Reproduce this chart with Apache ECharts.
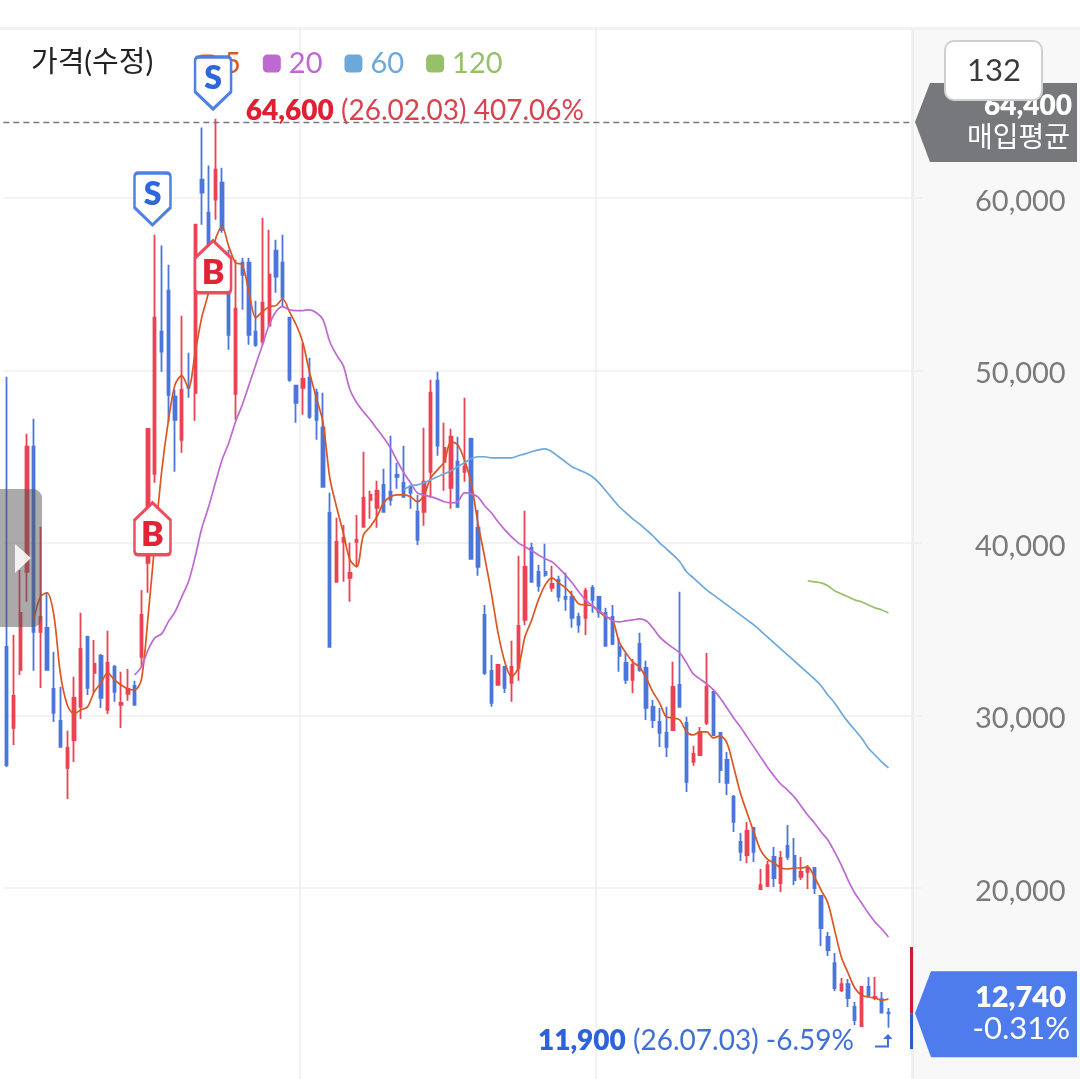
<!DOCTYPE html>
<html>
<head>
<meta charset="utf-8">
<style>html,body{margin:0;padding:0;background:#fff}#c{width:1080px;height:1079px}</style>
<script src="https://cdn.jsdelivr.net/npm/echarts@6/dist/echarts.min.js"></script>
</head>
<body>
<div id="c"></div>
<script>
const opens = [
33980,29280,32640,38330,45580,34850,35080,31540,29690,26960,
28580,30500,34560,32470,33460,30320,32820,30610,31250,31720,
33400,38850,44010,52250,54630,48480,45980,49060,48710,61060,
59150,59900,60890,54510,48650,56250,56250,52250,51670,52600,
56950,56250,53060,49120,49000,49580,48710,46680,41750,37750,
40070,37980,40070,40940,42500,42040,43370,42970,43950,43490,
43260,41810,41810,44130,49410,44710,43200,44710,44130,46040,
40880,35830,32590,31770,32820,31890,32760,35540,39720,38330,
38330,37400,37860,36880,36880,35720,35660,37400,36880,35950,
35720,33980,33050,32060,34150,32760,30500,29630,28990,29160,
31770,29570,27310,27710,29570,31370,28990,27420,25280,22670,
21910,23480,19940,20120,21800,20290,22440,21860,20640,20930,
21160,19540,17160,15650,14080,14430,13100,12000,14260,13620,
13560,12780];
const closes = [
27130,31140,35950,45580,34850,35720,32640,30150,28180,28120,
31020,33860,31600,32990,31020,33050,31370,30730,31540,30610,
35830,46620,53060,51090,48590,47140,48880,49000,58450,60310,
57290,61640,58160,52070,53580,55550,52070,51490,53930,55550,
55440,54220,49460,48130,49520,47320,47140,43260,33980,40070,
40300,38270,40180,42620,42790,43030,41810,42500,43840,42680,
42910,40180,43550,48710,45640,45520,46160,42100,44420,39080,
38620,32470,30730,32930,31600,32820,35200,38620,37750,37520,
38150,37630,36880,36760,35660,35250,37230,36700,36010,34040,
34150,33460,32060,32930,32640,30440,29740,28990,28180,31660,
30500,26150,27770,29050,31660,28870,26840,26090,23830,22090,
23310,22090,20170,21330,20580,21740,21800,20460,20930,21160,
20000,17680,16400,14200,14430,13620,12340,14260,13790,13680,
12780,12740];
const lows = [
27020,28290,32350,36590,32590,31600,32640,29630,28180,25160,
27310,29800,31190,31310,30440,30090,30790,29280,30850,30610,
32820,37110,43490,49930,47030,44130,45230,48420,47090,58450,
57000,58740,57990,51200,47140,53520,51490,51380,51490,52540,
54510,53700,49350,46970,47430,47200,45980,43260,33980,37750,
37750,36590,38620,40940,41400,40880,41750,42160,43140,42620,
41980,39890,41000,42620,45060,43030,41980,42100,43550,39080,
38100,32350,30500,31770,31310,30790,32010,35250,37690,37170,
38040,37170,36590,36070,35080,34790,34670,35950,35660,34040,
34090,32530,31830,31310,32530,29740,29280,28180,27600,29160,
30500,25570,27080,27660,29450,28820,26090,25390,23250,21570,
21450,21510,19940,20060,20060,19770,21620,20170,20460,19940,
19650,16640,16060,14030,13970,13100,12050,12000,13680,13500,
12750,11900];
const highs = [
49640,34670,38440,46330,47200,40940,37110,33690,31660,29110,
32240,35950,34620,34380,33570,34910,32930,32530,32700,32010,
37280,46620,57870,57240,56130,48880,53180,51030,58450,64080,
61880,64600,61760,57000,56420,56540,56540,54050,58860,58160,
57580,57870,53120,49120,51610,50740,48940,48710,42910,41460,
41050,40010,41630,45290,43030,43610,44300,46220,44650,45640,
43370,42790,46680,49460,49930,46970,46620,46160,48420,46100,
41920,36410,33510,32930,32880,34330,39260,41870,40010,38730,
39950,38680,38100,38270,37230,35950,37400,37570,36940,36240,
36410,34500,33630,33280,34790,33170,30900,30440,30500,33110,
37170,29920,28240,29340,33630,31430,29050,27890,25390,23190,
23830,23540,21100,21570,22380,22150,23650,22900,21800,21330,
21220,19590,17450,16230,14780,14720,13390,14260,14840,14840,
13970,13040];

const ma5Start = 4;
const ma5 = [
35540,36880,37110,35830,32350,30610,30090,30320,30500,31370,31890,32470,32060,31770,31540,31480,
32060,35720,40010,44070,47030,49170,49700,49000,51030,53120,54570,57580,58340,57180,56250,56130,
54510,53060,53410,53700,53760,54160,53410,52650,51610,49870,48420,46970,43780,42100,40590,39020,
38620,40470,40940,41520,42330,42680,42790,42790,42680,42390,42790,43780,44240,44710,45870,45690,
44820,43490,41170,39200,37110,34790,33110,32240,32760,34560,35540,36700,37570,37980,37690,37400,
36990,36470,36410,36360,36010,35720,35540,34270,33630,33110,32820,32180,31370,30730,29920,29860,
29740,29050,28870,29050,29050,28700,28820,28410,27020,25510,24350,23250,22200,21680,21450,21160,
21100,21160,21160,21220,20640,19880,19130,17560,16000,15070,14200,13790,13680,13620,13500,13560];

const ma20Start = 19;
const ma20 = [
32350,32820,33800,34500,34730,35430,36010,36880,37750,39200,40880,42100,43490,44820,45810,47030,
48010,49170,50330,51490,52650,53410,53700,53520,53470,53470,53520,53350,52940,51670,50910,50280,
48880,48130,47610,47140,46620,46100,45520,44770,44070,43490,42910,42790,42680,42560,42390,42330,
42390,42910,42850,42680,42160,41750,41230,40760,40360,40010,39780,39550,39310,39080,38910,38560,
38150,37690,37170,36700,36360,36070,35780,35490,35430,35490,35540,35600,35490,35080,34560,34210,
33920,33630,33050,32410,32120,31830,31480,31020,30440,29860,29340,28760,28180,27600,27020,26500,
26030,25680,25280,24760,24230,23770,23250,22780,22090,21330,20460,19710,19130,18550,18030,17620,17160];

const ma60Start = 59;
const ma60 = [
43080,43320,43370,43490,43660,43840,44010,44190,44420,44650,44880,45000,45000,44940,44940,44940,
44940,45060,45170,45290,45400,45460,45290,45000,44710,44420,44240,44070,43840,43490,43030,42560,
42100,41750,41400,41110,40760,40420,40010,39660,39310,38910,38330,37980,37630,37280,36990,36700,
36410,36120,35830,35540,35250,34910,34560,34210,33860,33510,33170,32820,32470,32120,31720,31190,
30730,30150,29630,29160,28700,28120,27710,27310,26960];

const ma120Start = 119;
const ma120 = [37810,37750,37690,37520,37230,37050,36880,36700,36590,36410,36240,36120,35950];

const yTicks = [20000,30000,40000,50000,60000];
const yMin = 8927, yMax = 69855;
const totalSlots = 135;
const timeSplits = [44,88];
const legendNames = ['5','20','60','120'];
const avgPrice = 64400;
const lastPrice = 12740;
const rangeHigh = 16580, rangeLow = 10660;
const highPoint = {i:31, v:64600, text:'64,600', rest:' (26.02.03) 407.06%'};
const lowPoint = {i:131, v:11900, text:'11,900', rest:' (26.07.03) -6.59%'};
const trades = [
  {t:'S', i:22, v:58380},
  {t:'B', i:22, v:42390},
  {t:'S', i:31, v:65100},
  {t:'B', i:31, v:57580}
];

const FONT = "Lato, 'Noto Sans CJK KR', sans-serif";
const RED='#EB4254', BLUE='#4B76DC';
const pad = (n,a)=>Array(n).fill(null).concat(a);
const categories = Array.from({length:totalSlots},(_,k)=>String(k));
const candles = opens.map((o,k)=>[o,closes[k],lows[k],highs[k]]);
const lineSeries=(name,data,color)=>({
  name,type:'line',data,showSymbol:false,symbol:'none',smooth:0.3,
  lineStyle:{color,width:1.7},itemStyle:{color},z:3,silent:true
});
const S_PATH='path://M4 0 H34 Q38 0 38 4 V36 L19 54 L0 36 V4 Q0 0 4 0 Z';
const B_PATH='path://M19 0 L38 18 V50 Q38 54 34 54 H4 Q0 54 0 50 V18 Z';
const tradePoints = trades.map(m=>{
  const sell=m.t==='S';
  const col=sell?'#4A7BE3':'#E9485A';
  return {
    coord:[m.i,m.v],symbol:sell?S_PATH:B_PATH,symbolSize:[36,52],
    symbolOffset:[-2.3,sell?-27:27],
    itemStyle:{color:'#fff',borderColor:col,borderWidth:3,opacity:0.96},
    label:{show:true,position:'inside',formatter:m.t,fontFamily:FONT,fontWeight:800,
      fontSize:sell?32:34,color:sell?'#2460DC':'#E01A30',offset:[0,sell?-4:6]}
  };
});
const priceLabel=(p,pos,dist,offset,col,dimCol)=>({
  coord:[p.i,p.v],symbol:'circle',symbolSize:1,itemStyle:{color:'transparent',opacity:1},
  label:{show:true,position:pos,distance:dist,offset,
    formatter:'{a|'+p.text+'}{b|'+p.rest+'}',
    rich:{a:{fontFamily:FONT,fontWeight:800,fontSize:28,color:col},
          b:{fontFamily:FONT,fontWeight:400,fontSize:28,color:dimCol}}}
});

const chart=echarts.init(document.getElementById('c'),null,{renderer:'canvas'});
chart.setOption({
  animation:false,
  backgroundColor:'#fff',
  grid:{left:3.35,top:28,width:908.65,height:1051,containLabel:false},
  legend:{
    data:legendNames,left:193,top:44,icon:'roundRect',itemWidth:18,itemHeight:18,itemGap:22,
    selectedMode:false,
    textStyle:{color:'inherit',fontFamily:FONT,fontSize:29,padding:[0,0,0,3]}
  },
  xAxis:{
    type:'category',data:categories,boundaryGap:true,
    axisLine:{show:false},axisTick:{show:false},axisLabel:{show:false},
    splitLine:{show:true,interval:(idx)=>timeSplits.includes(idx),lineStyle:{color:'#EFEFEF',width:1.5}}
  },
  yAxis:{
    type:'value',position:'right',min:yMin,max:yMax,scale:true,
    axisLine:{show:false},
    axisTick:{show:true,length:10,customValues:yTicks,lineStyle:{color:'#EFEFEF',width:1.5}},
    axisLabel:{show:true,customValues:yTicks,margin:63,
      formatter:v=>'{a|'+Number(v).toLocaleString('en-US')+'}',
      rich:{a:{color:'#7A7A7A',fontFamily:FONT,fontSize:29,padding:[7,0,0,0]}}},
    splitLine:{show:true,lineStyle:{color:'#EFEFEF',width:1.5}}
  },
  series:[
    {
      name:'가격(수정)',type:'candlestick',data:candles,barWidth:2.8,z:2,
      itemStyle:{color:RED,color0:BLUE,borderColor:RED,borderColor0:BLUE,borderWidth:1.8,borderColorDoji:RED},
      markLine:{
        silent:true,symbol:'none',label:{show:false},animation:false,
        lineStyle:{color:'#777',type:[6,4],width:1.3},
        data:[{yAxis:avgPrice}]
      },
      markPoint:{
        silent:true,animation:false,z:6,
        data:[
          ...tradePoints,
          priceLabel(highPoint,'right',30,[0,-8],'#E01F32','#D8434F'),
          priceLabel(lowPoint,'left',34,[0,13],'#2C62DA','#3F6FD8')
        ]
      }
    },
    lineSeries('5',pad(ma5Start,ma5),'#DB5620'),
    lineSeries('20',pad(ma20Start,ma20),'#BE68D2'),
    lineSeries('60',pad(ma60Start,ma60),'#6DA8DA'),
    lineSeries('120',pad(ma120Start,ma120),'#98BF6A')
  ]
});

const yPx=v=>chart.convertToPixel({yAxisIndex:0},v);
const yAvg=yPx(avgPrice), yLast=yPx(lastPrice), yHi=yPx(rangeHigh), yLo=yPx(rangeLow);
const txt=(x,y,text,size,color,align,weight)=>({
  type:'text',z:60,silent:true,
  style:{x,y,text,fontSize:size,fill:color,align:align||'right',verticalAlign:'middle',
    fontFamily:FONT,fontWeight:weight||400}
});
chart.setOption({graphic:{elements:[
  {type:'rect',z:-5,silent:true,shape:{x:913,y:28,width:167,height:1051},style:{fill:'#F8F8F8'}},
  {type:'rect',z:-4,silent:true,shape:{x:911.5,y:28,width:2.5,height:1051},style:{fill:'#EDEDED'}},
  {type:'rect',z:-4,silent:true,shape:{x:0,y:27,width:1080,height:3},style:{fill:'#F2F2F2'}},
  {type:'rect',z:40,silent:true,shape:{x:910,y:yHi,width:3,height:yLast-yHi},style:{fill:'#CF1B30'}},
  {type:'rect',z:40,silent:true,shape:{x:910,y:yLast,width:3,height:yLo-yLast},style:{fill:'#2F5CC6'}},
  {type:'polygon',z:50,silent:true,shape:{points:[[915,yAvg],[930,yAvg-39],[1077,yAvg-39],[1077,yAvg+40],[930,yAvg+40]]},style:{fill:'#77787B'}},
  txt(1072,yAvg-16,'64,400',28,'#fff','right',800),
  txt(1070,yAvg+16,'매입평균',28,'#fff','right',400),
  {type:'rect',z:70,silent:true,shape:{x:945,y:41,width:97,height:59,r:9},style:{fill:'#fff',stroke:'#CFCFCF',lineWidth:2}},
  {...txt(994,71,'132',31,'#3A3A3A','center',400),z:71},
  {type:'polygon',z:50,silent:true,shape:{points:[[915,yLast],[931,yLast-42],[1077,yLast-42],[1077,yLast+44],[931,yLast+44]]},style:{fill:'#4F7CEC'}},
  txt(1066,yLast-16,'12,740',29,'#fff','right',800),
  txt(1070,yLast+16,'-0.31%',31,'#fff','right',400),
  {type:'polyline',z:60,silent:true,shape:{points:[[875,1046.5],[888,1046.5],[888,1036]]},style:{stroke:'#3F6FD8',fill:'none',lineWidth:2}},
  {type:'polygon',z:60,silent:true,shape:{points:[[883,1039],[888,1034],[892.5,1039]]},style:{fill:'#3F6FD8'}},
  txt(31,63,'가격(수정)',29,'#222','left',400),
  {type:'rect',z:80,silent:true,shape:{x:-10,y:489,width:52,height:138,r:9},style:{fill:'rgba(85,85,85,0.5)'}},
  {type:'polygon',z:81,silent:true,shape:{points:[[15,544],[15,573],[31,558]]},style:{fill:'rgba(255,255,255,0.85)'}}
]}});
</script>
</body>
</html>
